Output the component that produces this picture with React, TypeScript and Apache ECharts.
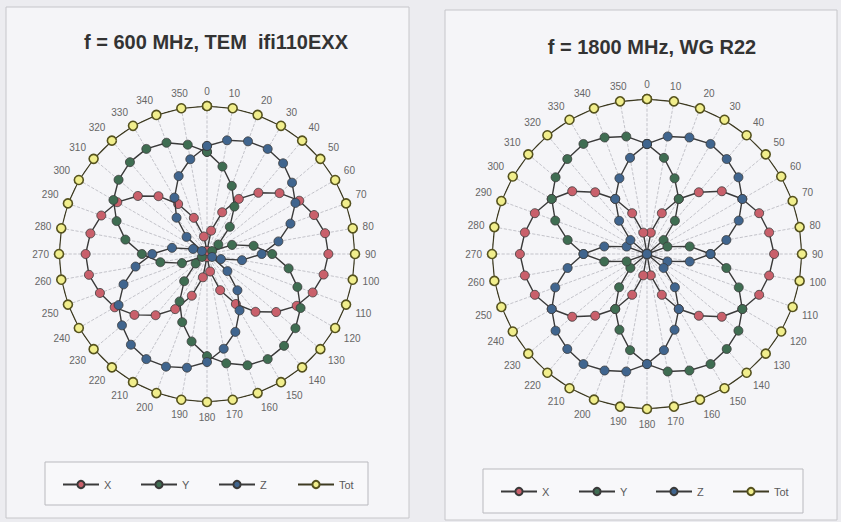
import React, { useEffect, useRef } from "react";
import * as echarts from "echarts";

const ANGLES = [0, 10, 20, 30, 40, 50, 60, 70, 80, 90, 100, 110, 120, 130, 140, 150, 160, 170,
  180, 190, 200, 210, 220, 230, 240, 250, 260, 270, 280, 290, 300, 310, 320, 330, 340, 350];

const TITLES = ["f = 600 MHz, TEM  ifi110EXX", "f = 1800 MHz, WG R22"];
const NAMES = ["X", "Y", "Z", "Tot"];

// 600 MHz (left)
const L_X = [0.02, 0.16, 0.30, 0.43, 0.54, 0.64, 0.72, 0.77, 0.81, 0.82, 0.80, 0.76, 0.70, 0.61, 0.51, 0.39, 0.26, 0.12,
  0.02, 0.16, 0.30, 0.43, 0.54, 0.64, 0.72, 0.77, 0.81, 0.82, 0.80, 0.76, 0.70, 0.61, 0.51, 0.39, 0.26, 0.12];
const L_Y = [0.69, 0.60, 0.49, 0.37, 0.24, 0.10, 0.04, 0.18, 0.32, 0.44, 0.56, 0.65, 0.73, 0.78, 0.81, 0.82, 0.80, 0.75,
  0.69, 0.60, 0.49, 0.37, 0.24, 0.10, 0.04, 0.18, 0.32, 0.44, 0.56, 0.65, 0.73, 0.78, 0.81, 0.82, 0.80, 0.75];
const L_Z = [0.73, 0.78, 0.81, 0.82, 0.80, 0.75, 0.69, 0.60, 0.49, 0.37, 0.24, 0.10, 0.04, 0.18, 0.32, 0.44, 0.56, 0.65,
  0.73, 0.78, 0.81, 0.82, 0.80, 0.75, 0.69, 0.60, 0.49, 0.37, 0.24, 0.10, 0.04, 0.18, 0.32, 0.44, 0.56, 0.65];
const L_TOT = [1, 1, 1, 1, 1, 1, 1, 1, 1, 1, 1, 1, 1, 1, 1, 1, 1, 1,
  1, 1, 1, 1, 1, 1, 1, 1, 1, 1, 1, 1, 1, 1, 1, 1, 1, 1];

// 1800 MHz (right)
const R_X = [0, 0.14, 0.28, 0.41, 0.52, 0.63, 0.71, 0.77, 0.80, 0.82, 0.80, 0.77, 0.71, 0.63, 0.52, 0.41, 0.28, 0.14,
  0, 0.14, 0.28, 0.41, 0.52, 0.63, 0.71, 0.77, 0.80, 0.82, 0.80, 0.77, 0.71, 0.63, 0.52, 0.41, 0.28, 0.14];
const R_Y = [0.71, 0.63, 0.52, 0.41, 0.28, 0.14, 0, 0.14, 0.28, 0.41, 0.52, 0.63, 0.71, 0.77, 0.80, 0.82, 0.80, 0.77,
  0.71, 0.63, 0.52, 0.41, 0.28, 0.14, 0, 0.14, 0.28, 0.41, 0.52, 0.63, 0.71, 0.77, 0.80, 0.82, 0.80, 0.77];
const R_Z = [0.71, 0.77, 0.80, 0.82, 0.80, 0.77, 0.71, 0.63, 0.52, 0.41, 0.28, 0.14, 0, 0.14, 0.28, 0.41, 0.52, 0.63,
  0.71, 0.77, 0.80, 0.82, 0.80, 0.77, 0.71, 0.63, 0.52, 0.41, 0.28, 0.14, 0, 0.14, 0.28, 0.41, 0.52, 0.63];
const R_TOT = [1, 1, 1, 1, 1, 1, 1, 1, 1, 1, 1, 1, 1, 1, 1, 1, 1, 1,
  1, 1, 1, 1, 1, 1, 1, 1, 1, 1, 1, 1, 1, 1, 1, 1, 1, 1];

const CHARTS = [
  { title: TITLES[0], series: [L_X, L_Y, L_Z, L_TOT] },
  { title: TITLES[1], series: [R_X, R_Y, R_Z, R_TOT] },
];

const FILLS = ["#c9606b", "#3f6d52", "#40658e", "#f1ee8c"];
const LAYOUT = [
  { center: [207, 254], radius: 148, titleX: 216, titleY: 32, legendY: 479, legendX: [62, 140, 218, 297],
    panel: [6, 7, 403, 511], box: [45, 462, 323, 43] },
  { center: [647, 254], radius: 155, titleX: 652, titleY: 37, legendY: 486, legendX: [500, 578, 655, 732],
    panel: [445, 10, 392, 510], box: [483, 469, 320, 44] },
];

const FONT = "'Liberation Sans', Arial, sans-serif";

function buildOption() {
  const series: any[] = [];
  CHARTS.forEach((c, ci) => {
    c.series.forEach((vals, si) => {
      const data = ANGLES.map((a, i) => [vals[i], a]);
      data.push([vals[0], 360]);
      const isTot = si === 3;
      series.push({
        type: "line",
        name: NAMES[si],
        coordinateSystem: "polar",
        polarIndex: ci,
        data,
        clip: false,
        symbol: "circle",
        symbolSize: 9,
        z: 3 + si,
        itemStyle: {
          color: FILLS[si],
          borderColor: isTot ? "#55521e" : "#3a3a3a",
          borderWidth: isTot ? 1.6 : 0.8,
        },
        lineStyle: { color: isTot ? "#3e3b22" : "#3a3a3a", width: isTot ? 1.6 : 1.4 },
      });
    });
  });

  const legends: any[] = [];
  LAYOUT.forEach((l) => {
    NAMES.forEach((n, i) => {
      legends.push({
        data: [n],
        left: l.legendX[i],
        top: l.legendY,
        padding: 0,
        itemWidth: 36,
        itemHeight: 9,
        selectedMode: false,
        textStyle: { color: "#5a5a5a", fontSize: 11, fontFamily: FONT },
      });
    });
  });

  const graphic: any[] = [];
  LAYOUT.forEach((l) => {
    graphic.push({
      type: "rect",
      shape: { x: l.panel[0], y: l.panel[1], width: l.panel[2], height: l.panel[3] },
      style: { fill: "#f5f5f8", stroke: "#c6c6ca", lineWidth: 1 },
      silent: true,
      z: -10,
    });
    graphic.push({
      type: "rect",
      shape: { x: l.box[0], y: l.box[1], width: l.box[2], height: l.box[3] },
      style: { fill: "#f8f8fa", stroke: "#b9b9be", lineWidth: 1 },
      silent: true,
      z: -9,
    });
  });

  return {
    animation: false,
    backgroundColor: "#ececf0",
    textStyle: { fontFamily: FONT },
    title: CHARTS.map((c, i) => ({
      text: c.title,
      left: LAYOUT[i].titleX,
      top: LAYOUT[i].titleY,
      textAlign: "center",
      padding: 0,
      textStyle: { fontSize: 20, fontWeight: "bold", color: "#333", fontFamily: FONT },
    })),
    polar: LAYOUT.map((l) => ({ center: l.center, radius: l.radius })),
    angleAxis: LAYOUT.map((_, i) => ({
      polarIndex: i,
      type: "value",
      min: 0,
      max: 360,
      interval: 10,
      startAngle: 90,
      clockwise: true,
      axisLine: { show: false },
      axisTick: { show: false },
      axisLabel: {
        color: "#666",
        fontSize: 10,
        margin: 10,
        formatter: (v: number) => (v === 360 ? "" : String(v)),
      },
      splitLine: { show: true, lineStyle: { color: "#b6b6be", type: "dashed", width: 0.8 } },
    })),
    radiusAxis: LAYOUT.map((_, i) => ({
      polarIndex: i,
      type: "value",
      min: 0,
      max: 1,
      show: false,
    })),
    legend: legends,
    graphic,
    series,
  };
}

export default function App() {
  const ref = useRef<HTMLDivElement>(null);
  useEffect(() => {
    if (!ref.current) return;
    const chart = echarts.init(ref.current, undefined, { renderer: "svg" });
    chart.setOption(buildOption() as any);
    return () => chart.dispose();
  }, []);
  return (
    <div
      ref={ref}
      style={{ position: "fixed", left: 0, top: 0, width: 841, height: 522 }}
    />
  );
}
